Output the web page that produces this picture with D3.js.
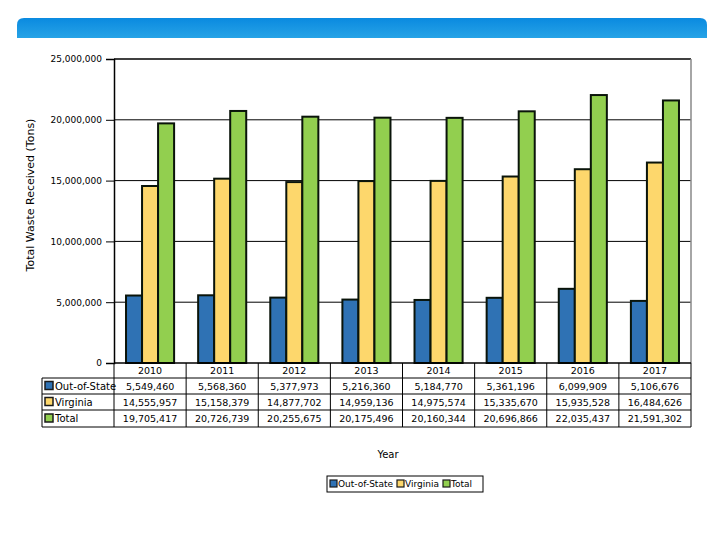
<!DOCTYPE html>
<html><head><meta charset="utf-8">
<script src="https://cdn.jsdelivr.net/npm/d3@7"></script>
<style>body{margin:0;background:#fff}svg{display:block}</style>
</head><body>
<svg id="c" width="720" height="540"></svg>
<script>
const years = ["2010","2011","2012","2013","2014","2015","2016","2017"];
const seriesNames = ["Out-of-State","Virginia","Total"];
const outOfState = [5549460,5568360,5377973,5216360,5184770,5361196,6099909,5106676];
const virginia = [14555957,15158379,14877702,14959136,14975574,15335670,15935528,16484626];
const total = [19705417,20726739,20255675,20175496,20160344,20696866,22035437,21591302];
const yTicks = [0,5000000,10000000,15000000,20000000,25000000];
const colors = ["#2f72b4","#fdd76c","#92cf4f"];
const series = [outOfState, virginia, total];

const svg = d3.select("#c");
const font = "DejaVu Sans, Verdana, sans-serif";

// banner
const defs = svg.append("defs");
const g1 = defs.append("linearGradient").attr("id","bn").attr("x1",0).attr("y1",0).attr("x2",0).attr("y2",1);
g1.append("stop").attr("offset","0%").attr("stop-color","#0a8ae0");
g1.append("stop").attr("offset","100%").attr("stop-color","#27a3e6");
const bx=17,by=18,bw=690,bh=20,r=7;
svg.append("path").attr("fill","url(#bn)")
  .attr("d",`M${bx},${by+bh} L${bx},${by+r} Q${bx},${by} ${bx+r},${by} L${bx+bw-r},${by} Q${bx+bw},${by} ${bx+bw},${by+r} L${bx+bw},${by+bh} Z`);

const L=114, R=691, T=59, B=363;
const x = d3.scaleBand().domain(years).range([L,R]);
const y = d3.scaleLinear().domain([0,25000000]).range([B,T]);
const xs = d3.scaleBand().domain(seriesNames).range([0,x.bandwidth()]).paddingOuter(0.75).paddingInner(0);

// gridlines
svg.append("g").selectAll("line").data(yTicks.slice(1,5)).join("line")
  .attr("x1",L).attr("x2",R).attr("y1",d=>y(d)).attr("y2",d=>y(d))
  .attr("stroke","#000").attr("stroke-width",1);
// top border & right border
svg.append("line").attr("x1",L).attr("x2",R).attr("y1",T).attr("y2",T).attr("stroke","#000").attr("stroke-width",1.5);
svg.append("line").attr("x1",R).attr("x2",R).attr("y1",T).attr("y2",B).attr("stroke","#888").attr("stroke-width",1.5);

// bars
series.forEach((vals,si)=>{
  svg.append("g").selectAll("rect").data(vals).join("rect")
    .attr("x",(d,i)=>x(years[i])+xs(seriesNames[si]))
    .attr("y",d=>y(d))
    .attr("width",xs.bandwidth())
    .attr("height",d=>B-y(d))
    .attr("fill",colors[si]).attr("stroke","#0a140a").attr("stroke-width",2);
});

// y axis
const ya = svg.append("g").attr("transform",`translate(${L},0)`)
  .call(d3.axisLeft(y).tickValues(yTicks).tickSize(8).tickPadding(4).tickFormat(d3.format(",")));
ya.select(".domain").attr("stroke","#000").attr("stroke-width",1.5);
ya.selectAll("text").attr("font-family",font).attr("font-size",9).attr("fill","#000");
// zero line
svg.append("line").attr("x1",L).attr("x2",R).attr("y1",B).attr("y2",B).attr("stroke","#000").attr("stroke-width",1.5);

// y title
svg.append("text").attr("transform","translate(34,195) rotate(-90)")
  .attr("text-anchor","middle").attr("font-family",font).attr("font-size",11).text("Total Waste Received (Tons)");

// data table
const rowTop=[363,378,394,410], rowBot=427, TL=42;
const tg = svg.append("g").attr("font-family",font).attr("font-size",9.5);
years.forEach(yr=>{
  tg.append("line").attr("x1",x(yr)+x.bandwidth()).attr("x2",x(yr)+x.bandwidth()).attr("y1",B).attr("y2",rowBot).attr("stroke","#000");
});
tg.append("line").attr("x1",L).attr("x2",L).attr("y1",B).attr("y2",rowBot).attr("stroke","#000");
tg.append("line").attr("x1",TL).attr("x2",TL).attr("y1",rowTop[1]).attr("y2",rowBot).attr("stroke","#000");
[rowTop[1],rowTop[2],rowTop[3],rowBot].forEach(yy=>{
  tg.append("line").attr("x1",TL).attr("x2",R).attr("y1",yy).attr("y2",yy).attr("stroke","#000");
});
tg.selectAll("text.yr").data(years).join("text").attr("class","yr")
  .attr("x",d=>x(d)+x.bandwidth()/2).attr("y",374).attr("text-anchor","middle").text(d=>d);
series.forEach((vals,si)=>{
  const cy=(rowTop[si+1]+(si<2?rowTop[si+2]:rowBot))/2;
  tg.append("rect").attr("x",TL+3).attr("y",cy-4.5).attr("width",8).attr("height",8)
    .attr("fill",colors[si]).attr("stroke","#1a1a1a").attr("stroke-width",1.5);
  tg.append("text").attr("x",TL+13).attr("y",cy+3.5).attr("font-size",10).text(seriesNames[si]);
  tg.selectAll(null).data(vals).join("text")
    .attr("x",(d,i)=>x(years[i])+x.bandwidth()/2).attr("y",cy+3.5).attr("text-anchor","middle")
    .text(d=>d3.format(",")(d));
});

// x title
svg.append("text").attr("x",388).attr("y",458).attr("text-anchor","middle").attr("font-family",font).attr("font-size",10).text("Year");

// legend
const lg = svg.append("g").attr("font-family",font).attr("font-size",9);
lg.append("rect").attr("x",327).attr("y",476).attr("width",156).attr("height",16).attr("fill","#fff").attr("stroke","#000");
const lx=[330,397,443];
seriesNames.forEach((n,i)=>{
  lg.append("rect").attr("x",lx[i]).attr("y",480).attr("width",7).attr("height",7).attr("fill",colors[i]).attr("stroke","#1a1a1a").attr("stroke-width",1.2);
  lg.append("text").attr("x",lx[i]+8).attr("y",487).text(n);
});
</script>
</body></html>
